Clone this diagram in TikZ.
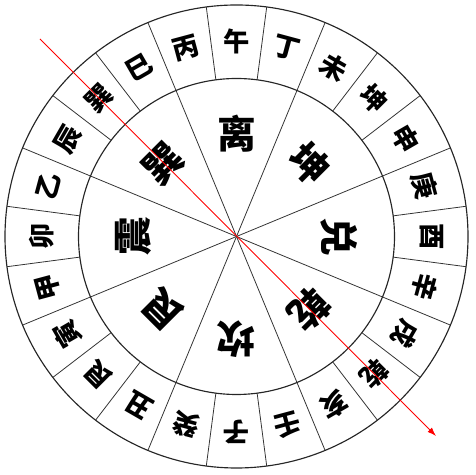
\documentclass[tikz,border=0pt]{standalone}
\usepackage{fontspec}
\newfontfamily\cjk{Noto Sans CJK SC}
\usetikzlibrary{arrows.meta}
\tikzset{
  ring/.style={draw=black!85, line width=0.65pt},
  spoke/.style={draw=black!80, line width=0.45pt},
  mountain/.style={font=\cjk\bfseries\fontsize{15}{15}\selectfont, inner sep=0pt},
  trigram/.style={font=\cjk\bfseries\fontsize{22}{22}\selectfont, inner sep=0pt},
  needle/.style={red, line width=0.5pt, -{Latex[length=5pt,width=3.5pt]}}
}
\begin{document}
\begin{tikzpicture}[x=0.02cm,y=0.02cm]
  \useasboundingbox (-236.5,-238.5) rectangle (239.5,236.5);
  % rings and dividers
  \draw[ring] (0,0) circle (231.5) (0,0) circle (158);
  \foreach \a in {7.5,22.5,...,352.5}
    \draw[spoke] (\a:158) -- (\a:231.5);
  \foreach \a in {22.5,67.5,...,337.5}
    \draw[spoke] (0,0) -- (\a:158);
  % twenty-four mountains, counterclockwise from the top
  \foreach \c [count=\i from 0] in {午,丙,巳,巽,辰,乙,卯,甲,寅,艮,丑,癸,子,壬,亥,乾,戌,辛,酉,庚,申,坤,未,丁}
    \node[mountain, rotate={15*\i}] (m\i) at ({90+15*\i}:195) {\c};
  % eight trigrams
  \foreach \c [count=\i from 0] in {离,巽,震,艮,坎,乾,兑,坤}
    \node[trigram, rotate={45*\i}] (g\i) at ({90+45*\i}:103) {\c};
  % direction line
  \coordinate (tail) at (-196.5,197.5);
  \coordinate (tip) at (199.5,-199.5);
  \draw[needle] (tail) -- (tip);
\end{tikzpicture}
\end{document}
